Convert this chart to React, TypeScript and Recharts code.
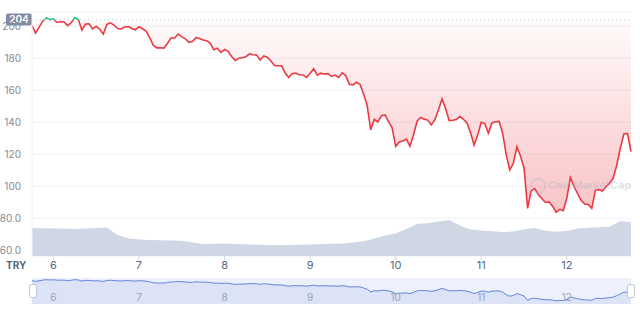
import {
  ComposedChart,
  AreaChart,
  Area,
  Line,
  XAxis,
  YAxis,
  CartesianGrid,
  ReferenceLine,
} from "recharts";

const quote = "TRY";
const openPrice = 204;
const startDay = 5.75;
const endDay = 12.75;
const dayTicks = [6, 7, 8, 9, 10, 11, 12];
const priceTicks = [60, 80, 100, 120, 140, 160, 180, 200];

// hourly closes, from day 5 18:00 to day 12 18:00
const prices = [
  200.2, 195.6, 199.3, 203.0, 205.0, 204.0, 204.5, 202.2, 202.8, 202.5,
  200.2, 202.0, 205.3, 204.0, 197.5, 201.2, 201.4, 198.2, 199.8, 198.0,
  195.0, 201.0, 202.0, 200.6, 198.4, 198.2, 199.4, 199.6, 198.5, 197.6,
  199.5, 198.3, 196.8, 192.8, 188.0, 186.3, 186.4, 186.2, 189.2, 192.5,
  192.5, 195.0, 193.4, 192.0, 189.8, 190.3, 192.7, 192.2, 191.2, 190.8,
  189.2, 185.1, 186.1, 183.5, 185.4, 184.2, 181.0, 178.4, 179.8, 180.1,
  180.8, 182.6, 182.0, 181.9, 178.8, 181.3, 180.5, 178.1, 175.3, 175.2,
  175.1, 170.6, 167.8, 170.3, 170.5, 169.5, 169.4, 167.9, 170.3, 173.3,
  169.3, 170.5, 169.9, 170.2, 168.5, 169.3, 167.8, 170.7, 169.0, 163.6,
  163.2, 164.8, 163.5, 157.5, 150.4, 135.0, 141.7, 140.0, 144.0, 144.4,
  140.2, 136.4, 124.8, 127.5, 128.1, 129.3, 124.9, 131.9, 140.5, 142.8,
  141.8, 141.2, 138.2, 141.5, 147.6, 154.4, 148.5, 140.9, 141.1, 141.5,
  143.4, 141.7, 139.4, 133.3, 125.6, 131.8, 139.8, 139.0, 133.0, 139.4,
  140.2, 140.4, 133.0, 119.6, 110.0, 114.2, 124.5, 118.8, 111.3, 86.0,
  97.0, 98.4, 94.7, 92.2, 89.7, 90.1, 87.4, 83.6, 85.4, 84.6,
  92.5, 105.3, 99.8, 95.4, 91.1, 88.7, 88.4, 86.0, 97.3, 97.7,
  96.8, 99.5, 101.8, 104.8, 113.0, 123.6, 132.5, 132.9, 121.5,
];

// volume, every 3 hours
const volumes = [
  28.0, 27.7, 27.4, 27.2, 27.1, 27.5, 28.1, 28.5, 21.0, 17.7,
  16.4, 16.0, 15.7, 15.5, 15.3, 13.5, 11.9, 12.2, 12.5, 12.1,
  11.7, 11.3, 11.0, 10.9, 11.0, 11.2, 11.5, 11.8, 12.3, 12.6,
  13.5, 14.8, 17.5, 20.5, 22.4, 27.0, 32.0, 32.8, 34.5, 36.0,
  30.5, 26.5, 25.6, 24.7, 24.0, 24.5, 26.8, 28.0, 25.2, 24.2,
  25.0, 27.5, 28.2, 28.8, 29.3, 35.0, 33.7,
];

const rows = prices.map((price, i) => ({
  day: startDay + i / 24,
  price,
  volume: i % 3 === 0 ? volumes[i / 3] : null,
}));

const maxP = Math.max(...prices);
const minP = Math.min(...prices);
const split = (maxP - openPrice) / (maxP - minP);

const fmtPrice = (v: number) => (v < 100 ? v.toFixed(1) : String(v));

const OpenTag = (props: any) => {
  const { viewBox } = props;
  if (!viewBox) return null;
  const y = viewBox.y;
  return (
    <g>
      <rect x={viewBox.x - 26} y={y - 6} width={26} height={12} rx={2} fill="#858ca2" />
      <text
        x={viewBox.x - 13}
        y={y}
        dy="0.35em"
        textAnchor="middle"
        fill="#fff"
        fontSize={10}
        fontWeight={600}
      >
        {openPrice}
      </text>
    </g>
  );
};

const NavTick = (props: any) => {
  const { x, y, payload } = props;
  return (
    <text x={x} y={y - 3} textAnchor="middle" fill="#9aa2b4" fontSize={10}>
      {payload.value}
    </text>
  );
};

export default function App() {
  return (
    <div
      style={{
        position: "absolute",
        left: 0,
        top: 0,
        width: 640,
        height: 310,
        background: "#fff",
        fontFamily: "Inter, sans-serif",
      }}
    >
      <ComposedChart
        width={640}
        height={280}
        data={rows}
        margin={{ top: 12, right: 9, bottom: 0, left: 0 }}
      >
        <defs>
          <linearGradient id="priceStroke" x1="0" y1="0" x2="0" y2="1">
            <stop offset={0} stopColor="#16c784" />
            <stop offset={split} stopColor="#16c784" />
            <stop offset={split} stopColor="#ea3943" />
            <stop offset={1} stopColor="#ea3943" />
          </linearGradient>
          <linearGradient id="priceFill" x1="0" y1="0" x2="0" y2="1">
            <stop offset="0%" stopColor="#ea3943" stopOpacity={0.02} />
            <stop offset="100%" stopColor="#ea3943" stopOpacity={0.3} />
          </linearGradient>
        </defs>
        <CartesianGrid vertical={false} stroke="#eff2f5" />
        <XAxis
          dataKey="day"
          type="number"
          domain={[startDay, endDay]}
          ticks={dayTicks}
          height={24}
          axisLine={false}
          tickSize={4}
          tickMargin={1}
          tickLine={{ stroke: "#cfd6e4" }}
          tick={{ fill: "#58667e", fontSize: 11 }}
        />
        <YAxis
          domain={[56.25, 208.75]}
          ticks={priceTicks}
          allowDataOverflow
          width={32}
          axisLine={{ stroke: "#eff2f5" }}
          tickLine={false}
          tickMargin={5}
          tickFormatter={fmtPrice}
          tick={{ fill: "#808a9d", fontSize: 10 }}
        />
        <YAxis
          yAxisId="vol"
          orientation="right"
          width={0}
          domain={[0, (max: number) => max * 6.78]}
          tick={false}
          axisLine={{ stroke: "#eff2f5" }}
          tickLine={false}
        />
        <Area
          yAxisId="vol"
          type="linear"
          dataKey="volume"
          connectNulls
          stroke="none"
          fill="#cfd6e4"
          fillOpacity={1}
          isAnimationActive={false}
        />
        <Area
          type="linear"
          dataKey="price"
          baseValue={openPrice}
          stroke="none"
          fill="url(#priceFill)"
          fillOpacity={1}
          isAnimationActive={false}
        />
        <Line
          type="linear"
          dataKey="price"
          stroke="url(#priceStroke)"
          strokeWidth={1.6}
          dot={false}
          isAnimationActive={false}
        />
        <ReferenceLine
          y={openPrice}
          stroke="#c9ced8"
          strokeDasharray="1 3"
          label={<OpenTag />}
        />
      </ComposedChart>

      <div
        style={{
          position: "absolute",
          left: 6,
          top: 259,
          fontSize: 10,
          fontWeight: 700,
          color: "#58667e",
        }}
      >
        {quote}
      </div>

      <div
        style={{
          position: "absolute",
          left: 530,
          top: 178,
          width: 12,
          height: 12,
          borderRadius: "50%",
          border: "2px solid rgba(170,180,200,0.3)",
        }}
      />
      <div
        style={{
          position: "absolute",
          left: 548,
          top: 178,
          fontSize: 11,
          fontWeight: 600,
          color: "rgba(170,180,200,0.4)",
        }}
      >
        CoinMarketCap
      </div>

      <div
        style={{
          position: "absolute",
          left: 32,
          top: 278,
          width: 599,
          height: 26,
          background: "#edf1fc",
        }}
      />
      <div style={{ position: "absolute", left: 0, top: 278 }}>
        <AreaChart
          width={640}
          height={27}
          data={rows}
          margin={{ top: 0, right: 9, bottom: 0, left: 32 }}
        >
          <YAxis hide domain={[65, 215]} />
          <XAxis
            dataKey="day"
            type="number"
            domain={[startDay, endDay]}
            ticks={dayTicks}
            height={1}
            axisLine={false}
            tickLine={false}
            tickSize={0}
            tickMargin={0}
            tick={<NavTick />}
          />
          <Area
            type="linear"
            dataKey="price"
            stroke="#6384d8"
            strokeWidth={1}
            fill="#6384d8"
            fillOpacity={0.12}
            isAnimationActive={false}
          />
        </AreaChart>
      </div>
      {[29, 627].map((x) => (
        <div
          key={x}
          style={{
            position: "absolute",
            left: x,
            top: 284,
            width: 6,
            height: 12,
            background: "#fff",
            border: "1px solid #c3c9d4",
            borderRadius: 2,
          }}
        />
      ))}
    </div>
  );
}
